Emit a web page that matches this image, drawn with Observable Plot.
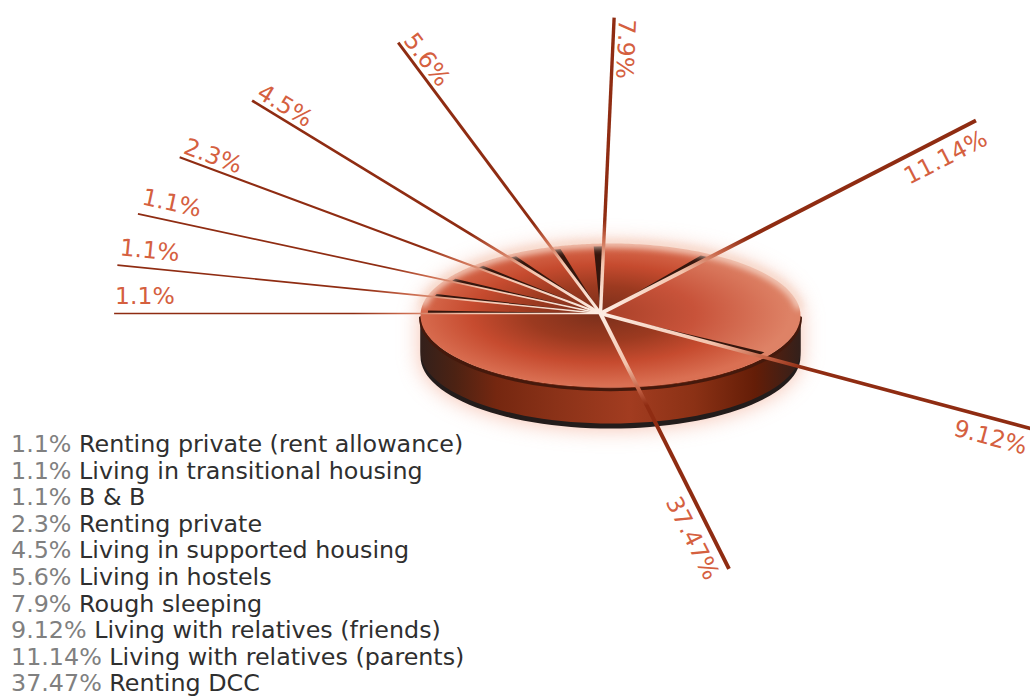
<!DOCTYPE html>
<html>
<head>
<meta charset="utf-8">
<script src="https://cdn.jsdelivr.net/npm/d3@7"></script>
<script src="https://cdn.jsdelivr.net/npm/@observablehq/plot@0.6"></script>
<style>
  html, body { margin: 0; padding: 0; background: #fff; overflow: hidden; }
  #chart { position: relative; width: 1030px; height: 698px; overflow: hidden; }
  #legend {
    position: absolute; left: 11px; top: 431px; margin: 0; padding: 0; list-style: none;
    font: 23.8px/26.6px "DejaVu Sans", sans-serif; color: #2f2f2f; white-space: nowrap;
  }
  #legend b { font-weight: normal; color: #808080; }
</style>
</head>
<body>
<div id="chart"><ul id="legend"></ul></div>
<script>
// Housing situation of respondents, listed in key order.
const categories = [
  "Renting private (rent allowance)",
  "Living in transitional housing",
  "B & B",
  "Renting private",
  "Living in supported housing",
  "Living in hostels",
  "Rough sleeping",
  "Living with relatives (friends)",
  "Living with relatives (parents)",
  "Renting DCC"
];
const values = [1.1, 1.1, 1.1, 2.3, 4.5, 5.6, 7.9, 9.12, 11.14, 37.47];

// Angle of the disc given to each distinct value, in degrees.
const sweepValues = [1.1, 2.3, 4.5, 5.6, 7.9, 9.12, 11.14, 37.47];
const sweepDegrees = [14.8, 13.8, 16, 16.8, 35.4, 44, 88.8, 100.8];

// Length of each leader line, in disc radii.
const leaderLengths = [2.56, 2.63, 2.8, 3.1, 3.48, 3.91, 4.11, 2.77, 3.33, 3.61];

// Clockwise order around the disc, starting at the left-hand horizontal.
const clockwise = [0, 1, 2, 3, 4, 5, 6, 8, 7, 9];

const sweepOf = d3.scaleOrdinal(sweepValues, sweepDegrees);
const widthOf = d3.scaleSqrt().domain([1.1, 11.14]).range([1.7, 3.9]).clamp(true);

const pxPerX = 190, pxPerY = 72;          // tilt of the disc
const disc = {cx: 10 / pxPerX, cy: -2 / pxPerY}; // the slices meet off-centre
const thickness = 0.57, wallThickness = 0.5;

const rad = (deg) => deg * Math.PI / 180;
const ray = (deg, r) => [-Math.cos(rad(deg)) * r, Math.sin(rad(deg)) * r];
const rimAt = (t) => [disc.cx + Math.cos(rad(t)), disc.cy + Math.sin(rad(t))];

// Where a ray from the meeting point crosses the disc's rim.
function rimOnRay(deg) {
  const [dx, dy] = ray(deg, 1);
  const b = -(dx * disc.cx + dy * disc.cy);
  const c = disc.cx * disc.cx + disc.cy * disc.cy - 1;
  const s = -b + Math.sqrt(b * b - c);
  return [dx * s, dy * s];
}

let angle = 0;
const slices = clockwise.map((i) => {
  const start = angle;
  angle += sweepOf(values[i]);
  const end = angle;
  const arc = d3.range(0, 33).map((k) => rimOnRay(start + (end - start) * k / 32));
  const [ex, ey] = ray(start, leaderLengths[i]);
  const side = ex > 0.2 ? "right" : "left";
  // Screen direction of the leader, read in the sense the label runs.
  const sign = side === "left" ? -1 : 1;
  const tx = sign * ex * pxPerX, ty = -sign * ey * pxPerY, tl = Math.hypot(tx, ty);
  const ux = tx / tl, uy = ty / tl;
  // The label sits clear of the line: above it on the left, below it on the right.
  const along = 1;
  const clear = side === "right" ? 10 : values[i] === 1.1 ? 10 : 5;
  const nx = side === "left" ? uy : -uy, ny = side === "left" ? -ux : ux;
  const lx = ex + (ux * along + nx * clear) / pxPerX;
  const ly = ey - (uy * along + ny * clear) / pxPerY;
  return {
    value: values[i], start, end, side, ex, ey, lx, ly,
    rotate: Math.atan2(uy, ux) * 180 / Math.PI,
    label: `${values[i]}%`,
    face: [[0, 0], ...arc]
  };
});

const frontArc = d3.range(180, 361, 3).map(rimAt);
const wall = (depth) => [...frontArc, ...frontArc.slice().reverse().map(([x, y]) => [x, y - depth])];
const silhouette = [...d3.range(0, 181, 3).map(rimAt), ...frontArc.map(([x, y]) => [x, y - thickness])];
const backArc = d3.range(8, 173, 3).map(rimAt);

const xy = {x: (d) => d[0], y: (d) => d[1]};
const poly = (pts, o) => Plot.line(pts, {...xy, stroke: "none", ...o});
const labelStyle = {
  x: "lx", y: "ly", text: "label", rotate: "rotate",
  fill: "#d5603f", fontSize: 23.5, fontFamily: "DejaVu Sans"
};

const plot = Plot.plot({
  width: 1030,
  height: 698,
  margin: 0,
  x: {domain: [-600 / pxPerX, 430 / pxPerX], axis: null},
  y: {domain: [-385 / pxPerY, 313 / pxPerY], axis: null},
  marks: [
    // soft halo round the whole solid
    poly(silhouette, {fill: "#e8704a", fillOpacity: 0.45, imageFilter: "blur(11px)"}),
    // base and side wall
    poly(wall(thickness), {fill: "#231c1b"}),
    poly(wall(wallThickness), {fill: "url(#wallShade)"}),
    // dark lip under the front edge of the top face
    Plot.line(frontArc.map(([x, y]) => [x, y - 0.03]), {...xy, stroke: "#45190c", strokeWidth: 3}),
    // top face
    ...slices.map((s) => poly(s.face, {
      fill: s.value === 11.14 ? "url(#faceLight)" : "url(#face)",
      imageFilter: "blur(0.6px)"
    })),
    // shadowed gaps between the slices, on the upper side of each leader
    ...slices.filter((s) => s.value !== 37.47).map((s) => {
      const lean = s.start < 80 ? 2.6 : -3.2;
      const shrink = ([x, y]) => [x * 0.96, y * 0.96];
      return poly([[0, 0], shrink(rimOnRay(s.start)), shrink(rimOnRay(s.start + lean))], {
        fill: "#35160d", imageFilter: "blur(0.7px)"
      });
    }),
    // light catching the back of the rim
    Plot.line(backArc, {...xy, stroke: "#f7d9cb", strokeWidth: 8, strokeOpacity: 0.85, imageFilter: "blur(3px)"}),
    // leader lines
    Plot.link(slices, {
      x1: () => 0, y1: () => 0,
      x2: "ex", y2: "ey",
      stroke: "url(#leaderFade)",
      strokeWidth: (d) => widthOf(d.value)
    }),
    // value labels lying along the leaders
    Plot.text(slices.filter((s) => s.side === "left"), {...labelStyle, textAnchor: "start", lineAnchor: "bottom"}),
    Plot.text(slices.filter((s) => s.side === "right"), {...labelStyle, textAnchor: "end", lineAnchor: "top"})
  ]
});

// Shared gradients, centred on the slices' meeting point through the plot's scales.
const px = plot.scale("x").apply, py = plot.scale("y").apply;
const at = `translate(${px(0)},${py(0)}) scale(${pxPerX},${pxPerY})`;
const wallStops = [[0, "#33201b"], [0.09, "#4c2213"], [0.2, "#752710"], [0.36, "#8b3218"], [0.55, "#a23c20"],
  [0.72, "#8b3115"], [0.88, "#641d07"], [1, "#33201b"]];
d3.select(plot).insert("defs", ":first-child").html(`
  <radialGradient id="face" gradientUnits="userSpaceOnUse" cx="0" cy="0" r="1" gradientTransform="${at}">
    <stop offset="0" stop-color="#7a2f1b"/><stop offset="0.38" stop-color="#9c3a20"/>
    <stop offset="0.68" stop-color="#c64b2f"/><stop offset="1" stop-color="#da7053"/>
  </radialGradient>
  <radialGradient id="faceLight" gradientUnits="userSpaceOnUse" cx="0" cy="0" r="1" gradientTransform="${at}">
    <stop offset="0" stop-color="#a84028"/><stop offset="0.5" stop-color="#c8533a"/>
    <stop offset="1" stop-color="#de8266"/>
  </radialGradient>
  <radialGradient id="leaderFade" gradientUnits="userSpaceOnUse" cx="0" cy="0" r="1.3" gradientTransform="${at}">
    <stop offset="0" stop-color="#fdeee4"/><stop offset="0.55" stop-color="#f3c3ac"/>
    <stop offset="0.8" stop-color="#c9684b"/><stop offset="1" stop-color="#8f2c12"/>
  </radialGradient>
  <linearGradient id="wallShade">
    ${wallStops.map(([o, c]) => `<stop offset="${o}" stop-color="${c}"/>`).join("")}
  </linearGradient>`);

const chart = document.getElementById("chart");
chart.insertBefore(plot, chart.firstChild);

// Key below the disc: value in grey, category in near-black.
d3.select("#legend").selectAll("li").data(categories).join("li")
  .html((name, i) => `<b>${values[i]}%</b> ${name.replace("&", "&amp;")}`);
</script>
</body>
</html>
